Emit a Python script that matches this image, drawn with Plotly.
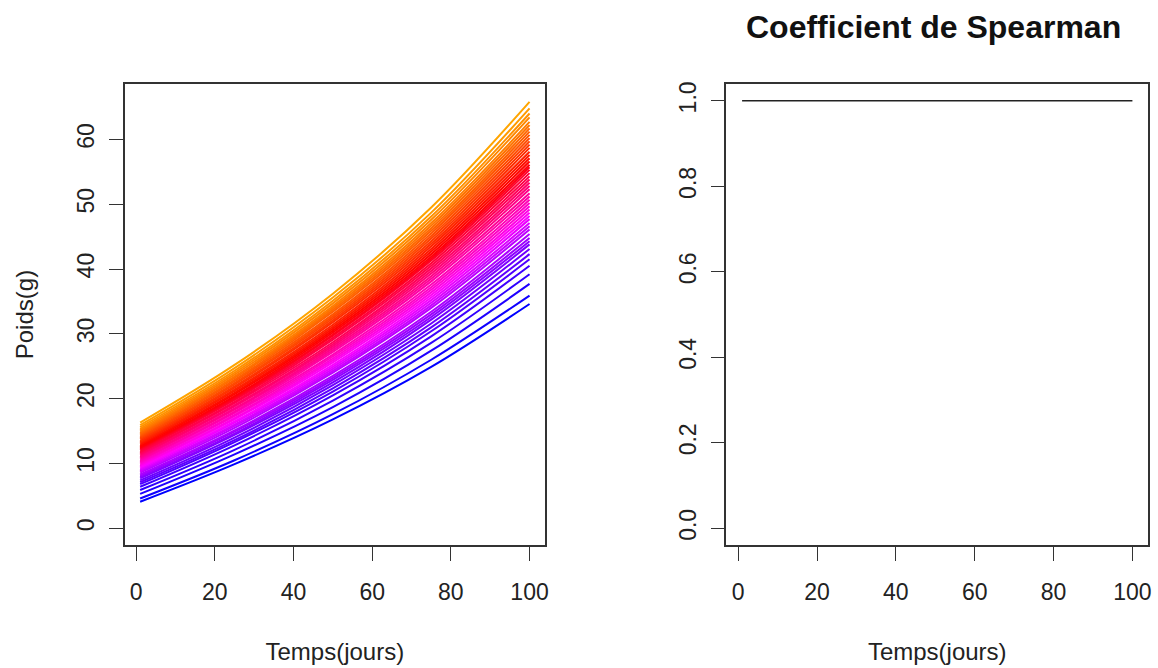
import plotly.graph_objects as go

# ---- data (weights of each individual, sorted by rank) ----
jours_releves = [1, 25, 50, 75, 100]
poids_j1 = [4.1, 4.6, 5.3, 5.9, 6.4, 6.8, 7.1, 7.4, 7.7, 7.9,
            8.1, 8.3, 8.6, 8.8, 9.0, 9.2, 9.4, 9.6, 9.8, 10.0,
            10.2, 10.4, 10.6, 10.8, 11.0, 11.2, 11.4, 11.6, 11.8, 12.0,
            12.2, 12.35, 12.5, 12.7, 12.9, 13.1, 13.3, 13.5, 13.7, 13.9,
            14.1, 14.3, 14.5, 14.7, 14.9, 15.1, 15.35, 15.6, 15.9, 16.3]
poids_j25 = [9.9, 10.5, 11.4, 12.1, 12.8, 13.3, 13.6, 14.0, 14.4, 14.6,
             14.9, 15.1, 15.5, 15.8, 16.0, 16.3, 16.5, 16.8, 17.0, 17.3,
             17.5, 17.8, 18.0, 18.3, 18.5, 18.8, 19.0, 19.3, 19.5, 19.8,
             20.0, 20.2, 20.4, 20.7, 20.9, 21.2, 21.4, 21.7, 21.9, 22.2,
             22.4, 22.7, 22.9, 23.2, 23.4, 23.7, 24.0, 24.3, 24.7, 25.2]
poids_j50 = [16.8, 17.6, 18.7, 19.7, 20.5, 21.1, 21.6, 22.1, 22.5, 22.9,
             23.2, 23.5, 24.0, 24.3, 24.6, 24.9, 25.2, 25.6, 25.9, 26.2,
             26.5, 26.8, 27.2, 27.5, 27.8, 28.1, 28.4, 28.7, 29.1, 29.4,
             29.7, 29.9, 30.2, 30.5, 30.8, 31.1, 31.4, 31.8, 32.1, 32.4,
             32.7, 33.0, 33.4, 33.7, 34.0, 34.3, 34.7, 35.1, 35.6, 36.2]
poids_j75 = [24.9, 26.0, 27.4, 28.6, 29.6, 30.4, 31.0, 31.6, 32.2, 32.6,
             33.0, 33.4, 34.0, 34.4, 34.8, 35.2, 35.6, 36.0, 36.4, 36.8,
             37.2, 37.6, 38.1, 38.5, 38.9, 39.3, 39.7, 40.1, 40.5, 40.9,
             41.3, 41.6, 41.9, 42.3, 42.7, 43.1, 43.5, 43.9, 44.3, 44.7,
             45.1, 45.5, 45.9, 46.3, 46.7, 47.1, 47.6, 48.1, 48.7, 49.5]
poids_j100 = [34.6, 35.9, 37.7, 39.2, 40.5, 41.5, 42.3, 43.1, 43.8, 44.3,
              44.8, 45.4, 46.1, 46.6, 47.1, 47.7, 48.2, 48.7, 49.2, 49.7,
              50.2, 50.7, 51.2, 51.7, 52.3, 52.8, 53.3, 53.8, 54.3, 54.8,
              55.3, 55.7, 56.1, 56.6, 57.1, 57.6, 58.1, 58.7, 59.2, 59.7,
              60.2, 60.7, 61.2, 61.7, 62.2, 62.7, 63.4, 64.0, 64.8, 65.8]

jours = list(range(1, 101))
spearman = [1.0] * 100

x_ticks = [0, 20, 40, 60, 80, 100]
y_ticks_left = [0, 10, 20, 30, 40, 50, 60]
y_ticks_right = [0.0, 0.2, 0.4, 0.6, 0.8, 1.0]
y_ticktext_right = ["0.0", "0.2", "0.4", "0.6", "0.8", "1.0"]

# colour ramp blue -> magenta -> red -> orange (by rank)
anchors = [(0, 0, 255), (255, 0, 255), (255, 0, 0), (255, 165, 0)]
def ramp(q):
    seg = min(int(q * 3), 2)
    f = q * 3 - seg
    a, b = anchors[seg], anchors[seg + 1]
    return "rgb(%d,%d,%d)" % tuple(round(a[k] + (b[k] - a[k]) * f) for k in range(3))

fig = go.Figure()
n = len(poids_j1)
for i in range(n):
    ys = [poids_j1[i], poids_j25[i], poids_j50[i], poids_j75[i], poids_j100[i]]
    fig.add_trace(go.Scatter(x=jours_releves, y=ys, mode="lines",
                             line=dict(color=ramp(i / (n - 1)), width=2.0, shape="spline"),
                             showlegend=False, hoverinfo="skip",
                             xaxis="x", yaxis="y"))

fig.add_trace(go.Scatter(x=jours, y=spearman, mode="lines",
                         line=dict(color="#222222", width=1.5),
                         showlegend=False, xaxis="x2", yaxis="y2"))

font = "Liberation Sans, Arial, sans-serif"
axis_common = dict(showline=True, mirror=True, linecolor="#333333", linewidth=1.5,
                   ticks="outside", ticklen=14, tickwidth=1.2, tickcolor="#333333",
                   showgrid=False, zeroline=False,
                   tickfont=dict(family=font, size=23, color="#222222"))

W, H = 1158, 668
def xd(a, b):
    return [a / W, b / W]
ydom = [(H - 545) / H, (H - 82) / H]

M = 65.95
title_font = dict(family=font, size=24, color="#222222")
fig.update_layout(
    width=W, height=H, margin=dict(l=0, r=0, t=0, b=0),
    paper_bgcolor="white", plot_bgcolor="white",
    xaxis=dict(domain=xd(125, 547), range=[1 - 0.04 * 99, 100 + 0.04 * 99],
               tickvals=x_ticks, ticklabelstandoff=11,
               title=dict(text="Temps(jours)", font=title_font, standoff=39),
               **axis_common),
    yaxis=dict(domain=ydom, range=[-0.04 * M, 1.04 * M], tickvals=y_ticks_left,
               tickangle=-90, ticklabelstandoff=6,
               title=dict(text="Poids(g)", font=title_font, standoff=32),
               **axis_common),
    xaxis2=dict(domain=xd(729, 1152), range=[1 - 0.04 * 99, 100 + 0.04 * 99],
                tickvals=x_ticks, ticklabelstandoff=11, anchor="y2",
                title=dict(text="Temps(jours)", font=title_font, standoff=39),
                **axis_common),
    yaxis2=dict(domain=ydom, range=[-0.04, 1.04], tickvals=y_ticks_right,
                ticktext=y_ticktext_right, tickangle=-90, ticklabelstandoff=6, anchor="x2",
                **axis_common),
    annotations=[dict(text="<b>Coefficient de Spearman</b>", x=937 / W, y=1 - 25 / H,
                      xref="paper", yref="paper", showarrow=False,
                      font=dict(family=font, size=32, color="#111111"),
                      xanchor="center", yanchor="middle")],
)

fig.write_html("out.html", config={"displayModeBar": False},
               post_script="document.body.style.margin='0px';document.body.style.overflow='hidden';")
